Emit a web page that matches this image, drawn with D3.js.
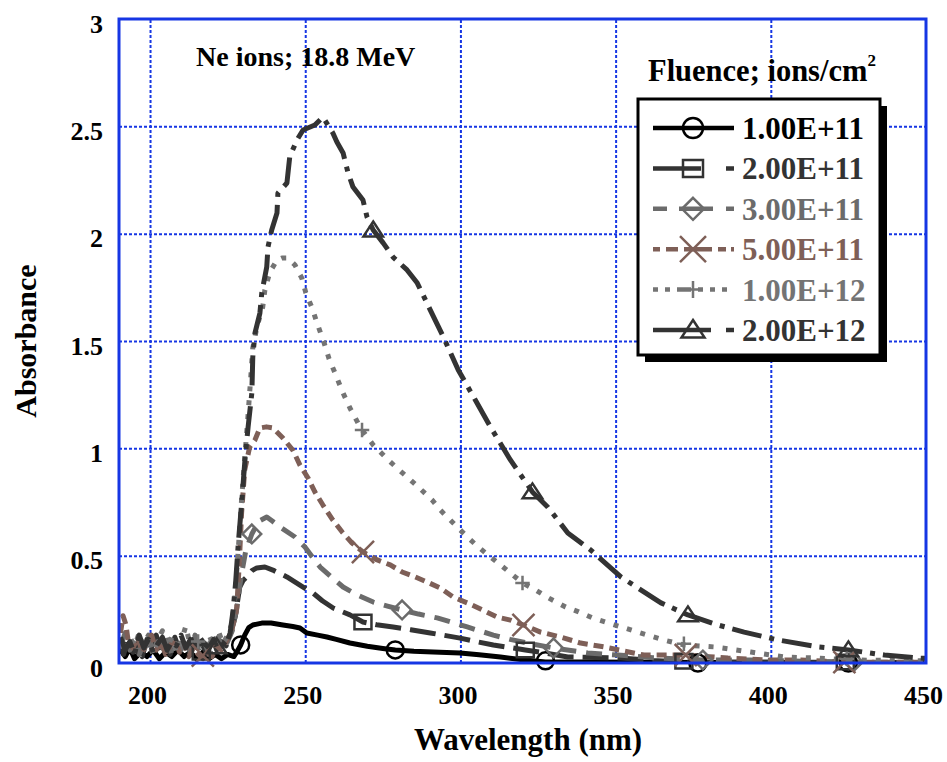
<!DOCTYPE html>
<html>
<head>
<meta charset="utf-8">
<script src="https://cdn.jsdelivr.net/npm/d3@7"></script>
<style>
  body { margin: 0; background: #fff; }
  svg text { font-family: "Liberation Serif", "Times New Roman", serif; font-weight: bold; }
</style>
</head>
<body>
<div id="chart"></div>
<script>
// ---- data: [wavelength nm, absorbance] ----
const fluenceLabels = ['1.00E+11', '2.00E+11', '3.00E+11', '5.00E+11', '1.00E+12', '2.00E+12'];

const s1e11 = [
    [190.5,0.06],[192,0.03],[193.5,0.07],[195,0.02],[197,0.05],[199,0.03],[201,0.06],[203,0.02],[205,0.05],
    [207,0.03],[209,0.06],[211,0.03],[213,0.05],[215,0.02],[217,0.05],[219,0.02],[221,0.04],[223,0.02],
    [225,0.04],[227,0.03],[228.3,0.06],[229.2,0.084],[230.5,0.13],[231.8,0.165],[233.1,0.177],[236,0.186],
    [239,0.186],[242.8,0.177],[246,0.17],[248.3,0.163],[250.5,0.14],[254,0.13],[257,0.121],[260,0.11],
    [264.4,0.093],[270,0.078],[275,0.068],[279,0.061],[285,0.055],[291.2,0.051],[299.9,0.047],[306,0.038],
    [312.9,0.028],[320,0.015],[327.4,0.005],[339.7,0.005],[360,0.003],[380,0.002],[410,0.002],[450,0.001]
];
const s2e11 = [
    [190.5,0.10],[191.5,0.04],[193,0.12],[194.5,0.05],[196,0.09],[197.5,0.03],[199,0.11],[200.5,0.06],
    [202,0.13],[203.5,0.05],[205,0.10],[206.5,0.04],[208,0.12],[209.5,0.06],[211,0.09],[212.5,0.04],
    [214,0.11],[215.5,0.05],[217,0.08],[218.5,0.04],[220,0.12],[221.5,0.06],[223,0.10],[224.5,0.08],
    [226,0.14],[227.5,0.22],[228.9,0.354],[230,0.385],[231.2,0.401],[232.8,0.43],[234.4,0.443],[237,0.447],
    [240,0.43],[244.1,0.401],[249.3,0.354],[252.5,0.326],[255.5,0.29],[259,0.256],[264.4,0.224],[268.6,0.191],
    [273,0.178],[278.3,0.168],[284,0.155],[290.3,0.14],[299.9,0.116],[305,0.10],[310.6,0.084],[315,0.074],
    [320.9,0.061],[328,0.045],[334.6,0.028],[351.7,0.023],[362,0.012],[372,0.005],[393.6,0.005],[420,0.003],
    [450,0.002]
];
const s3e11 = [
    [190.5,0.08],[192,0.14],[193.5,0.06],[195,0.11],[196.5,0.04],[198,0.09],[199.5,0.13],[201,0.05],
    [202.5,0.10],[204,0.07],[205.5,0.12],[207,0.04],[208.5,0.09],[210,0.06],[211.5,0.11],[213,0.05],
    [214.5,0.13],[216,0.07],[217.5,0.10],[219,0.04],[220.5,0.09],[222,0.12],[223.5,0.06],[225,0.10],
    [226.5,0.15],[228,0.26],[229.3,0.40],[230.8,0.52],[232.8,0.601],[235,0.66],[237.6,0.68],[239.5,0.66],
    [241.8,0.634],[246.7,0.587],[249.9,0.54],[252.5,0.49],[254.8,0.447],[258.5,0.40],[262.2,0.354],
    [267,0.315],[271.9,0.284],[276.5,0.265],[281.2,0.247],[286.5,0.228],[292.5,0.21],[302.2,0.168],
    [310.6,0.13],[316,0.11],[321.6,0.093],[330,0.07],[341,0.047],[350.7,0.037],[362,0.025],[378.1,0.014],
    [393.6,0.014],[410,0.008],[426.6,0.004],[450,0.003]
];
const s5e11 = [
    [190.5,0.14],[191.3,0.22],[192.2,0.18],[193,0.10],[194.5,0.07],[196,0.12],[197.5,0.05],[199,0.09],
    [200.5,0.13],[202,0.06],[203.5,0.10],[205,0.04],[206.5,0.08],[208,0.11],[209.5,0.05],[211,0.09],
    [212.5,0.03],[214,0.07],[215.5,0.04],[217,0.02],[218.5,0.05],[220,0.03],[221.5,0.08],[223,0.06],
    [224.5,0.10],[226,0.14],[227.2,0.20],[227.9,0.25],[228.7,0.45],[229.5,0.70],[230.5,0.899],[232.1,1.006],
    [233.8,1.039],[235.4,1.095],[237.5,1.10],[239.6,1.095],[242.8,1.048],[246,0.992],[248.3,0.922],
    [250.9,0.862],[253.1,0.797],[255.7,0.736],[258.9,0.666],[261.9,0.61],[265,0.56],[268.6,0.517],
    [273.2,0.48],[277.4,0.457],[281.2,0.424],[285.4,0.401],[289.3,0.377],[293.5,0.349],[297.7,0.307],
    [302.2,0.28],[307.1,0.247],[311.9,0.214],[316.1,0.2],[320.3,0.177],[325.8,0.144],[332.3,0.121],
    [338.7,0.093],[346.2,0.075],[359.1,0.037],[372.6,0.037],[386.2,0.023],[399.1,0.014],[409.8,0.014],
    [423.7,0.004],[450,0.003]
];
const s1e12 = [
    [190.5,0.09],[192,0.05],[193.5,0.12],[195,0.08],[196.5,0.14],[198,0.06],[199.5,0.10],[201,0.04],
    [202.5,0.11],[204,0.15],[205.5,0.07],[207,0.12],[208.5,0.05],[210,0.10],[211.5,0.17],[213,0.08],
    [214.5,0.12],[216,0.10],[217.5,0.06],[219,0.13],[220.5,0.08],[222,0.15],[223.5,0.09],[225,0.13],
    [226.3,0.18],[227.3,0.30],[228.3,0.50],[229.3,0.72],[230.3,0.92],[231.3,1.10],[232.2,1.28],[233.1,1.467],
    [234.5,1.57],[236.3,1.658],[237,1.738],[238.6,1.821],[240.9,1.877],[242.5,1.887],[244.4,1.887],
    [246.7,1.854],[248.9,1.793],[250.2,1.724],[252.2,1.654],[253.8,1.584],[256,1.495],[257.7,1.416],
    [259.6,1.351],[261.9,1.267],[264.4,1.188],[267,1.118],[268.3,1.085],[271.9,1.016],[276.7,0.946],
    [279.9,0.904],[283.2,0.862],[286.4,0.82],[290.9,0.759],[293.5,0.713],[298.3,0.643],[302.6,0.582],
    [305.8,0.54],[309.7,0.494],[312.9,0.457],[316.1,0.419],[320,0.373],[324.2,0.34],[328.4,0.303],
    [333.9,0.261],[338.1,0.238],[342.6,0.21],[347.8,0.186],[357.1,0.144],[365.5,0.107],[372,0.084],
    [381.7,0.075],[393.6,0.051],[404.3,0.028],[415.3,0.023],[425.9,0.014],[450,0.01]
];
const s2e12 = [
    [190.5,0.12],[192,0.06],[193.5,0.10],[195,0.04],[196.5,0.13],[198,0.07],[199.5,0.11],[201,0.05],
    [202.5,0.09],[204,0.12],[205.5,0.06],[207,0.10],[208.5,0.08],[210,0.13],[211.5,0.07],[213,0.11],
    [214.5,0.06],[216,0.12],[217.5,0.09],[219,0.07],[220.5,0.11],[221.5,0.075],[223,0.10],[224.5,0.08],
    [225.8,0.14],[226.8,0.25],[227.6,0.38],[228.4,0.55],[229.6,0.76],[230.6,0.95],[231.6,1.10],[232.8,1.258],
    [233.1,1.425],[233.8,1.537],[235.4,1.63],[236,1.724],[237.6,1.845],[238,1.938],[239.2,2.017],
    [240.9,2.096],[241.2,2.189],[244.1,2.236],[245,2.357],[247.3,2.436],[249.3,2.483],[253.1,2.506],
    [255.7,2.543],[258.9,2.469],[260.2,2.427],[262.2,2.376],[263.8,2.283],[265.4,2.217],[268.6,2.157],
    [269.9,2.078],[271.9,2.017],[275.1,1.957],[278.3,1.891],[282.8,1.831],[286.1,1.77],[290.3,1.644],
    [294.5,1.519],[299.3,1.365],[304.8,1.225],[309.7,1.099],[316.1,0.946],[323.2,0.797],[328.1,0.727],
    [334.6,0.606],[342,0.526],[351.7,0.401],[364.6,0.28],[373.3,0.224],[383,0.177],[391.4,0.144],
    [402.4,0.107],[415.3,0.075],[425,0.061],[436.6,0.037],[447.6,0.023],[450,0.022]
];

// marker positions shown on each curve
const m1e11 = [[229.2,0.084],[279,0.061],[327.4,0.01],[376.5,0.0],[425,0.0]];
const m2e11 = [[216.5,0.05],[268.6,0.191],[320.9,0.061],[372,0.008],[424,0.005]];
const m3e11 = [[232.8,0.601],[281.2,0.247],[330,0.07],[378.1,0.014],[426.6,0.005]];
const m5e11 = [[217,0.035],[268.6,0.517],[320.3,0.177],[372.6,0.037],[423.7,0.004]];
const m1e12 = [[215.5,0.10],[268.3,1.085],[320,0.373],[372,0.09],[424.5,0.02]];
const m2e12 = [[221.5,0.075],[271.9,2.017],[323.2,0.797],[373.3,0.224],[425,0.061]];

const xTicks = [200, 250, 300, 350, 400, 450];
const yTicks = [0, 0.5, 1, 1.5, 2, 2.5, 3];

// ---- styles ----
const seriesData = [s1e11, s2e11, s3e11, s5e11, s1e12, s2e12];
const markerData = [m1e11, m2e11, m3e11, m5e11, m1e12, m2e12];
const colors = ['#000000', '#333333', '#6b6b6b', '#7e5f57', '#747474', '#333333'];
const dashes = ['none', '26 9', '16 10', '10 6', '5 9', '30 8 5 8'];
// legend samples start at x=653, run 81px
const legendDashes = ['none', '48 25 8 20', '14 12 34 13 8 20', '7 6 12 6 28 6 8 5 8 5', '5 7 5 7 14 7 5 7 5 7', '58 15 8 20'];
const markerTypes = ['circle', 'square', 'diamond', 'cross', 'plus', 'triangle'];

const width = 947, height = 762;
const plot = { left: 119, right: 926, top: 19, bottom: 663 };
const gridBlue = '#1636e4';

const x = d3.scaleLinear().domain([190, 450]).range([plot.left, plot.right]);
const y = d3.scaleLinear().domain([0, 3]).range([plot.bottom, plot.top]);

const svg = d3.select('#chart').append('svg')
    .attr('width', width)
    .attr('height', height)
    .style('background', '#fff');

svg.append('defs').append('clipPath').attr('id', 'plotClip')
    .append('rect')
    .attr('x', plot.left).attr('y', plot.top)
    .attr('width', plot.right - plot.left).attr('height', plot.bottom - plot.top);

// grid
const grid = svg.append('g');
grid.append('g')
    .attr('transform', `translate(0,${plot.bottom})`)
    .call(d3.axisBottom(x).tickValues(xTicks.filter(d => d < 450)).tickSize(-(plot.bottom - plot.top)).tickFormat(''))
    .call(g => g.select('.domain').remove());
grid.append('g')
    .attr('transform', `translate(${plot.left},0)`)
    .call(d3.axisLeft(y).tickValues(yTicks.filter(d => d > 0 && d < 3)).tickSize(-(plot.right - plot.left)).tickFormat(''))
    .call(g => g.select('.domain').remove());
grid.selectAll('line')
    .attr('stroke', gridBlue)
    .attr('stroke-width', 2)
    .attr('stroke-dasharray', '3 2');

// tick labels
svg.append('g')
    .attr('transform', `translate(${plot.left},0)`)
    .call(d3.axisLeft(y).tickValues(yTicks).tickSize(0).tickPadding(16).tickFormat(d => d))
    .call(g => g.select('.domain').remove())
    .selectAll('text')
    .attr('dy', '0.5em')
    .style('font-size', '26px')
    .attr('fill', '#000');

svg.append('g')
    .attr('transform', `translate(0,${plot.bottom})`)
    .call(d3.axisBottom(x).tickValues(xTicks).tickSize(0).tickPadding(23))
    .call(g => g.select('.domain').remove())
    .selectAll('text')
    .attr('dx', -3)
    .style('font-size', '26px')
    .attr('fill', '#000');

// axis titles
svg.append('text')
    .attr('x', 528).attr('y', 750)
    .attr('text-anchor', 'middle')
    .style('font-size', '31px')
    .text('Wavelength (nm)');

svg.append('text')
    .attr('transform', `translate(36,${(plot.top + plot.bottom) / 2}) rotate(-90)`)
    .attr('text-anchor', 'middle')
    .style('font-size', '30px')
    .text('Absorbance');

// curves
const line = d3.line().x(d => x(d[0])).y(d => y(d[1]));
const curves = svg.append('g').attr('clip-path', 'url(#plotClip)');

function markerPath(type, s) {
    switch (type) {
        case 'circle': return d3.symbol().type(d3.symbolCircle).size(Math.PI * s * s)();
        case 'square': return `M${-s},${-s * 0.85}H${s}V${s * 0.85}H${-s}Z`;
        case 'diamond': return `M0,${-s * 1.1}L${s * 1.1},0L0,${s * 1.1}L${-s * 1.1},0Z`;
        case 'cross': return `M${-s * 1.3},${-s * 1.3}L${s * 1.3},${s * 1.3}M${s * 1.3},${-s * 1.3}L${-s * 1.3},${s * 1.3}`;
        case 'plus': return `M${-s * 0.85},0H${s * 0.85}M0,${-s * 0.85}V${s * 0.85}`;
        case 'triangle': return `M0,${-s}L${s * 1.15},${s * 0.75}H${-s * 1.15}Z`;
    }
}

seriesData.forEach((data, i) => {
    curves.append('path')
        .datum(data)
        .attr('d', line)
        .attr('fill', 'none')
        .attr('stroke', colors[i])
        .attr('stroke-width', 5)
        .attr('stroke-dasharray', dashes[i])
        .attr('stroke-linejoin', 'round');
});

markerData.forEach((data, i) => {
    svg.append('g').selectAll('path')
        .data(data)
        .join('path')
        .attr('transform', d => `translate(${x(d[0])},${y(d[1])})`)
        .attr('d', markerPath(markerTypes[i], 8.5))
        .attr('fill', 'none')
        .attr('stroke', colors[i])
        .attr('stroke-width', 2.5);
});

// plot frame
svg.append('rect')
    .attr('x', plot.left).attr('y', plot.top)
    .attr('width', plot.right - plot.left).attr('height', plot.bottom - plot.top)
    .attr('fill', 'none')
    .attr('stroke', gridBlue)
    .attr('stroke-width', 3);

// title
svg.append('text')
    .attr('x', 196).attr('y', 66)
    .style('font-size', '28px')
    .text('Ne ions; 18.8 MeV');

// legend
const legendTitle = svg.append('text')
    .attr('x', 648).attr('y', 81)
    .style('font-size', '30.5px')
    .text('Fluence; ions/cm');
legendTitle.append('tspan')
    .attr('dy', -15)
    .style('font-size', '17px')
    .text('2');

const lg = { x: 638, y: 99, w: 242, h: 256 };
svg.append('rect')
    .attr('x', lg.x + 7).attr('y', lg.y + 7)
    .attr('width', lg.w).attr('height', lg.h)
    .attr('fill', '#000');
svg.append('rect')
    .attr('x', lg.x).attr('y', lg.y)
    .attr('width', lg.w).attr('height', lg.h)
    .attr('fill', '#fff')
    .attr('stroke', '#000')
    .attr('stroke-width', 3);

const rowY = d3.scaleLinear().domain([0, 5]).range([128, 330]);
const legendRows = svg.append('g').selectAll('g')
    .data(fluenceLabels)
    .join('g')
    .attr('transform', (d, i) => `translate(0,${rowY(i)})`);

legendRows.append('line')
    .attr('x1', 653).attr('x2', 734)
    .attr('stroke', (d, i) => colors[i])
    .attr('stroke-width', 4.5)
    .attr('stroke-dasharray', (d, i) => legendDashes[i]);

legendRows.append('path')
    .attr('transform', 'translate(693,0)')
    .attr('d', (d, i) => markerPath(markerTypes[i], 10))
    .attr('fill', 'none')
    .attr('stroke', (d, i) => colors[i])
    .attr('stroke-width', 2.5);

legendRows.append('text')
    .attr('x', 742).attr('y', 11)
    .style('font-size', '31px')
    .attr('fill', (d, i) => colors[i])
    .text(d => d);
</script>
</body>
</html>
